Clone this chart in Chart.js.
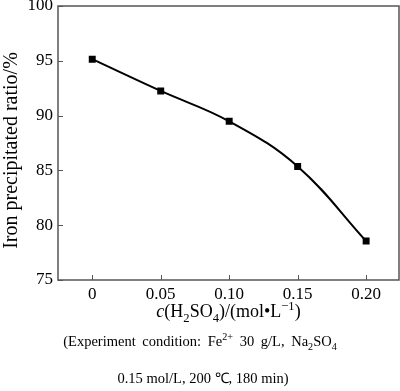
<!DOCTYPE html>
<html>
<head>
<meta charset="utf-8">
<script src="https://cdn.jsdelivr.net/npm/chart.js@4.4.1/dist/chart.umd.min.js"></script>
<style>
    body { margin: 0; background: #fff; width: 400px; height: 391px; overflow: hidden; font-family: "Liberation Serif", "Times New Roman", serif; }
    #wrap { position: relative; width: 400px; height: 300px; }
    .xtitle { position: absolute; left: 58px; width: 341px; top: 301px; text-align: center; font-size: 18px; color: #000; }
    .caption { position: absolute; left: 0; width: 400px; text-align: center; font-size: 14.5px; color: #000; }
    sub, sup { font-size: 70%; line-height: 0; }
</style>
</head>
<body>
<div id="wrap"><canvas id="ironChart"></canvas></div>
<div class="xtitle"><i>c</i>(H<sub>2</sub>SO<sub>4</sub>)/(mol&#8226;L<sup>&minus;1</sup>)</div>
<div class="caption" style="top:333px; word-spacing:3px">(Experiment condition: Fe<sup>2+</sup> 30 g/L, Na<sub>2</sub>SO<sub>4</sub></div>
<div class="caption" style="top:367px; left:3px">0.15 mol/L, 200 &#8451;, 180 min)</div>
<script>
// H2SO4 concentration (mol/L) vs iron precipitated ratio (%)
const concentrations = [0, 0.05, 0.10, 0.15, 0.20];
const ironRatio = [95.15, 92.25, 89.48, 85.36, 78.55];
const xTicks = [0, 0.05, 0.10, 0.15, 0.20];
const yTicks = [75, 80, 85, 90, 95, 100];

const serif = '"Liberation Serif", "Times New Roman", serif';
const tickFont = { family: serif, size: 17 };

// inward tick marks + frame round the plot
const framePlugin = {
    id: 'frame',
    afterDraw(chart) {
        const { ctx, chartArea: a, scales } = chart;
        ctx.save();
        ctx.strokeStyle = '#555';
        ctx.lineWidth = 1.5;
        ctx.strokeRect(a.left, a.top, a.right - a.left, a.bottom - a.top);
        ctx.lineWidth = 1;
        ctx.beginPath();
        xTicks.forEach(v => {
            const x = Math.round(scales.x.getPixelForValue(v)) + 0.5;
            ctx.moveTo(x, a.bottom);
            ctx.lineTo(x, a.bottom - 5);
        });
        yTicks.forEach(v => {
            const y = Math.round(scales.y.getPixelForValue(v)) + 0.5;
            ctx.moveTo(a.left, y);
            ctx.lineTo(a.left + 5, y);
        });
        ctx.stroke();
        ctx.restore();
    }
};

new Chart(document.getElementById('ironChart'), {
    type: 'line',
    data: {
        datasets: [{
            data: concentrations.map((c, i) => ({ x: c, y: ironRatio[i] })),
            borderColor: '#000',
            backgroundColor: '#000',
            borderWidth: 2,
            tension: 0.4,
            pointStyle: 'rect',
            pointRadius: 3.5,
            pointHoverRadius: 3.5
        }]
    },
    options: {
        responsive: true,
        maintainAspectRatio: false,
        animation: false,
        layout: { autoPadding: false, padding: { top: 6, right: 1, left: 0, bottom: 0 } },
        plugins: {
            legend: { display: false },
            tooltip: { enabled: false }
        },
        scales: {
            x: {
                type: 'linear',
                min: -0.025,
                max: 0.224,
                afterBuildTicks: scale => { scale.ticks = xTicks.map(v => ({ value: v })); },
                afterFit: scale => {
                    scale.height = 20;
                    scale.paddingLeft = 0;
                    scale.paddingRight = 0;
                },
                grid: { display: false, drawTicks: false },
                border: { display: false },
                ticks: {
                    font: tickFont,
                    color: '#000',
                    padding: 4,
                    maxRotation: 0,
                    callback: v => v === 0 ? '0' : v.toFixed(2)
                }
            },
            y: {
                min: 75,
                max: 100,
                afterBuildTicks: scale => { scale.ticks = yTicks.map(v => ({ value: v })); },
                afterFit: scale => {
                    scale.width = 58;
                    scale.paddingTop = 0;
                    scale.paddingBottom = 0;
                },
                grid: { display: false, drawTicks: false },
                border: { display: false },
                ticks: { font: tickFont, color: '#000', padding: 5 },
                title: {
                    display: true,
                    // trailing spaces nudge the label down a little, like the original
                    text: 'Iron precipitated ratio/%   ',
                    font: { family: serif, size: 20 },
                    color: '#000',
                    padding: { top: 0, bottom: 0 }
                }
            }
        }
    },
    plugins: [framePlugin]
});
</script>
</body>
</html>
